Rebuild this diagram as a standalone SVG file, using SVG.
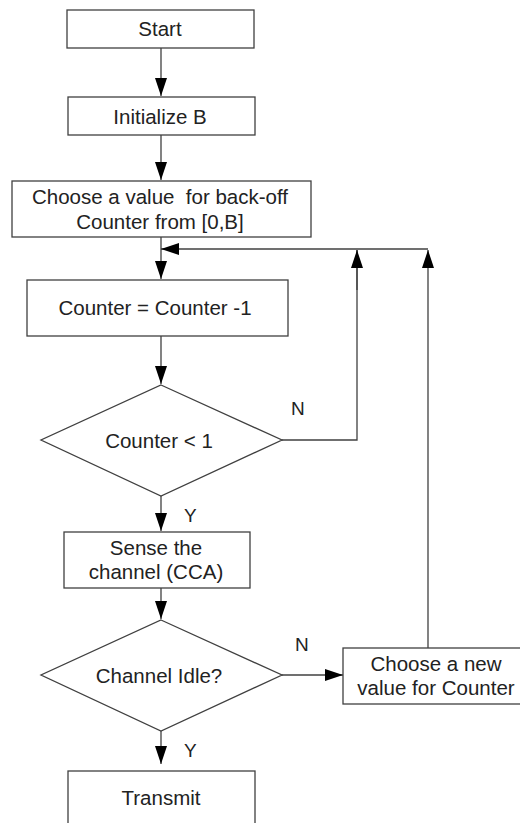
<svg xmlns="http://www.w3.org/2000/svg" width="520" height="823" viewBox="0 0 520 823">
<style>
.box{fill:#fff;stroke:#404040;stroke-width:1.3}
.ln{fill:none;stroke:#404040;stroke-width:1.3}
text{font-family:"Liberation Sans",Arial,sans-serif;font-size:20.5px;fill:#222;text-anchor:middle;dominant-baseline:central}
.lbl{text-anchor:start}
</style>
<defs>
<marker id="ah" viewBox="0 0 18 12" refX="18" refY="6" markerWidth="18" markerHeight="12" markerUnits="userSpaceOnUse" orient="auto">
<path d="M0,0 L18,6 L0,12 Z" fill="#000"/>
</marker>
</defs>
<rect width="520" height="823" fill="#fff"/>
<g id="connectors">
<line class="ln" x1="161" y1="48" x2="161" y2="96" marker-end="url(#ah)"/>
<line class="ln" x1="161" y1="135" x2="161" y2="180" marker-end="url(#ah)"/>
<line class="ln" x1="161" y1="237" x2="161" y2="279" marker-end="url(#ah)"/>
<line class="ln" x1="161" y1="336" x2="161" y2="384" marker-end="url(#ah)"/>
<line class="ln" x1="161" y1="496" x2="161" y2="531" marker-end="url(#ah)"/>
<line class="ln" x1="161" y1="588" x2="161" y2="619" marker-end="url(#ah)"/>
<line class="ln" x1="161" y1="731" x2="161" y2="764" marker-end="url(#ah)"/>
<line class="ln" x1="282" y1="675" x2="343" y2="675" marker-end="url(#ah)"/>
<polyline class="ln" points="282,440 357,440 357,250"/>
<line class="ln" x1="357" y1="290" x2="357" y2="250" marker-end="url(#ah)"/>
<line class="ln" x1="428" y1="648" x2="428" y2="250" marker-end="url(#ah)"/>
<line class="ln" x1="428" y1="249" x2="161" y2="249" marker-end="url(#ah)"/>
<text class="lbl" x="291" y="408" style="font-size:19px">N</text>
<text class="lbl" x="184" y="515" style="font-size:19px">Y</text>
<text class="lbl" x="295" y="644" style="font-size:19px">N</text>
<text class="lbl" x="184" y="750" style="font-size:19px">Y</text>
</g>
<g id="start">
<rect class="box" x="67" y="10" width="187" height="38"/>
<text x="160" y="28">Start</text>
</g>
<g id="initB">
<rect class="box" x="68" y="97" width="187" height="38"/>
<text x="160" y="116">Initialize B</text>
</g>
<g id="choose">
<rect class="box" x="12" y="181" width="299" height="56"/>
<text x="160" y="196" xml:space="preserve">Choose a value  for back-off</text>
<text x="160" y="221">Counter from [0,B]</text>
</g>
<g id="decrement">
<rect class="box" x="27" y="280" width="261" height="56"/>
<text x="155" y="307">Counter = Counter -1</text>
</g>
<g id="counterCheck">
<polygon class="box" points="161,385 282,440 161,496 41,440"/>
<text x="159" y="440">Counter &lt; 1</text>
</g>
<g id="sense">
<rect class="box" x="64" y="532" width="186" height="56"/>
<text x="156" y="547">Sense the</text>
<text x="156" y="571">channel (CCA)</text>
</g>
<g id="idle">
<polygon class="box" points="161,620 282,675 161,731 41,675"/>
<text x="159" y="675">Channel Idle?</text>
</g>
<g id="newValue">
<rect class="box" x="343" y="648" width="186" height="56"/>
<text x="436" y="663">Choose a new</text>
<text x="436" y="687">value for Counter</text>
</g>
<g id="transmit">
<rect class="box" x="68" y="771" width="187" height="60"/>
<text x="161" y="797">Transmit</text>
</g>
</svg>
